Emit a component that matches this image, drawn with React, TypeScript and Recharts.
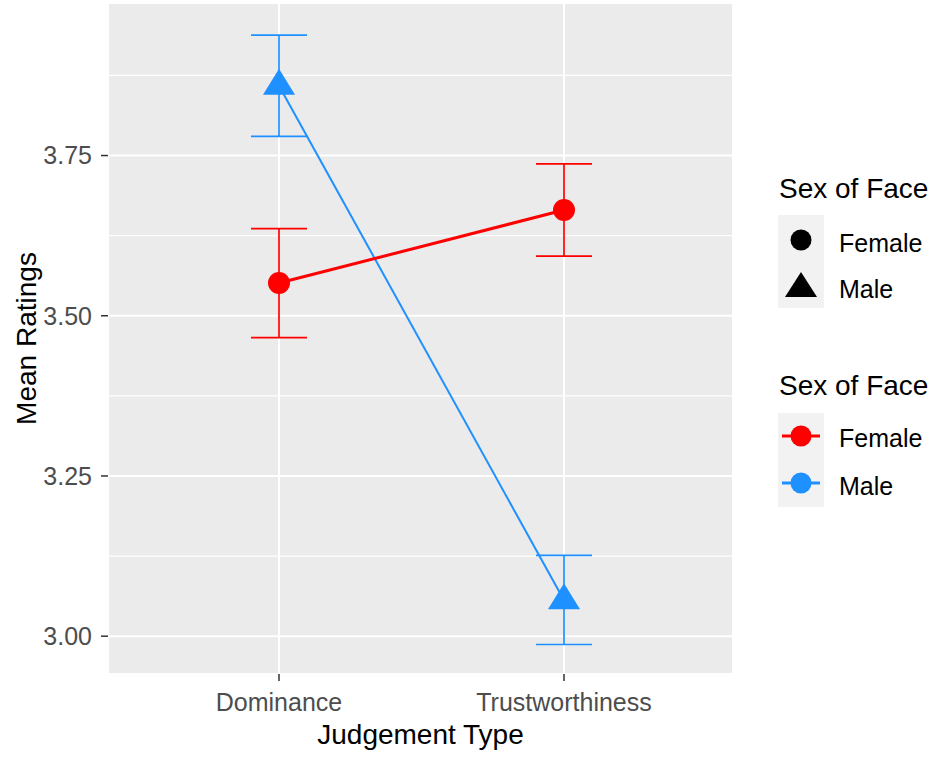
import React from "react";
import { LineChart, Line, XAxis, YAxis, CartesianGrid, ErrorBar, ReferenceLine, Label } from "recharts";

const judgementTypes = ["Dominance", "Trustworthiness"];
const femaleMeans = [3.551, 3.665];
const femaleLower = [3.466, 3.593];
const femaleUpper = [3.636, 3.737];
const maleMeans = [3.859, 3.056];
const maleLower = [3.78, 2.987];
const maleUpper = [3.938, 3.126];
const yTicks = [3.0, 3.25, 3.5, 3.75];
const yMinor = [3.125, 3.375, 3.625, 3.875];
const legendLabels = ["Female", "Male"];

const FEMALE = "#FF0000";
const MALE = "#1E90FF";
const FONT = "'Liberation Sans', Arial, sans-serif";

const data = judgementTypes.map((j, i) => ({
  judgement: j,
  female: femaleMeans[i],
  femaleErr: [femaleMeans[i] - femaleLower[i], femaleUpper[i] - femaleMeans[i]],
  male: maleMeans[i],
  maleErr: [maleMeans[i] - maleLower[i], maleUpper[i] - maleMeans[i]],
}));

const CircleDot = (props: any) => {
  const { cx, cy, index } = props;
  return <circle key={`f-${index}`} cx={cx} cy={cy} r={11} fill={FEMALE} />;
};

const TriangleDot = (props: any) => {
  const { cx, cy, index } = props;
  return <path key={`m-${index}`} d={`M${cx},${cy - 17} L${cx + 16},${cy + 9} L${cx - 16},${cy + 9} Z`} fill={MALE} />;
};

const XTitle = (props: any) => {
  const vb = props.viewBox;
  return (
    <text x={vb.x + vb.width / 2} y={vb.y + 70} textAnchor="middle" fontSize={28} fill="#000" fontFamily={FONT}>
      Judgement Type
    </text>
  );
};

const YTitle = (props: any) => {
  const vb = props.viewBox;
  const x = vb.x + 36;
  const y = vb.y + vb.height / 2;
  return (
    <text x={x} y={y} transform={`rotate(-90, ${x}, ${y})`} textAnchor="middle" fontSize={28} fill="#000" fontFamily={FONT}>
      Mean Ratings
    </text>
  );
};

function Legends() {
  const colors = [FEMALE, MALE];
  return (
    <svg width={173} height={360} style={{ position: "absolute", left: 770, top: 160 }} fontFamily={FONT}>
      <text x={9} y={38} fontSize={28} fill="#000">Sex of Face</text>
      <rect x={8} y={55} width={46} height={93} fill="#F2F2F2" />
      <circle cx={31} cy={80} r={10.5} fill="#000" />
      <path d="M31,112 L47,137 L15,137 Z" fill="#000" />
      {legendLabels.map((l, i) => (
        <text key={`a-${l}`} x={69} y={92 + i * 46} fontSize={25} fill="#000">{l}</text>
      ))}

      <text x={9} y={235} fontSize={28} fill="#000">Sex of Face</text>
      <rect x={8} y={253} width={46} height={94} fill="#F2F2F2" />
      {legendLabels.map((l, i) => (
        <g key={`b-${l}`}>
          <line x1={12} x2={50} y1={276 + i * 47} y2={276 + i * 47} stroke={colors[i]} strokeWidth={2.8} />
          <circle cx={31} cy={276 + i * 47} r={10.5} fill={colors[i]} />
          <text x={69} y={287 + i * 48} fontSize={25} fill="#000">{l}</text>
        </g>
      ))}
    </svg>
  );
}

export default function App() {
  return (
    <div style={{ position: "absolute", left: 0, top: 0, width: 943, height: 758, background: "#fff" }}>
      <LineChart width={943} height={758} data={data} margin={{ top: 3, right: 210, left: 0, bottom: 0 }}>
        <CartesianGrid fill="#EBEBEB" stroke="#FFFFFF" strokeWidth={2} />
        {yMinor.map((v) => (
          <ReferenceLine key={v} y={v} stroke="#FFFFFF" strokeWidth={1.2} />
        ))}
        <XAxis
          dataKey="judgement"
          type="category"
          padding={{ left: 171, right: 169 }}
          height={84}
          tickSize={7}
          tickMargin={12}
          axisLine={false}
          interval={0}
          tick={{ fill: "#4D4D4D", fontSize: 25, fontFamily: FONT }}
          tickLine={{ stroke: "#333333", strokeWidth: 1.5 }}
        >
          <Label content={XTitle} />
        </XAxis>
        <YAxis
          type="number"
          domain={[2.941, 3.988]}
          ticks={yTicks}
          allowDataOverflow
          width={108}
          tickSize={7}
          tickMargin={9}
          axisLine={false}
          tickFormatter={(v: number) => v.toFixed(2)}
          tick={{ fill: "#4D4D4D", fontSize: 25, fontFamily: FONT }}
          tickLine={{ stroke: "#333333", strokeWidth: 1.5 }}
        >
          <Label content={YTitle} />
        </YAxis>
        <Line dataKey="male" stroke={MALE} strokeWidth={2} dot={TriangleDot} activeDot={false} isAnimationActive={false}>
          <ErrorBar dataKey="maleErr" direction="y" width={28} stroke={MALE} strokeWidth={1.7} isAnimationActive={false} />
        </Line>
        <Line dataKey="female" stroke={FEMALE} strokeWidth={3} dot={CircleDot} activeDot={false} isAnimationActive={false}>
          <ErrorBar dataKey="femaleErr" direction="y" width={28} stroke={FEMALE} strokeWidth={1.7} isAnimationActive={false} />
        </Line>
      </LineChart>
      <Legends />
    </div>
  );
}
